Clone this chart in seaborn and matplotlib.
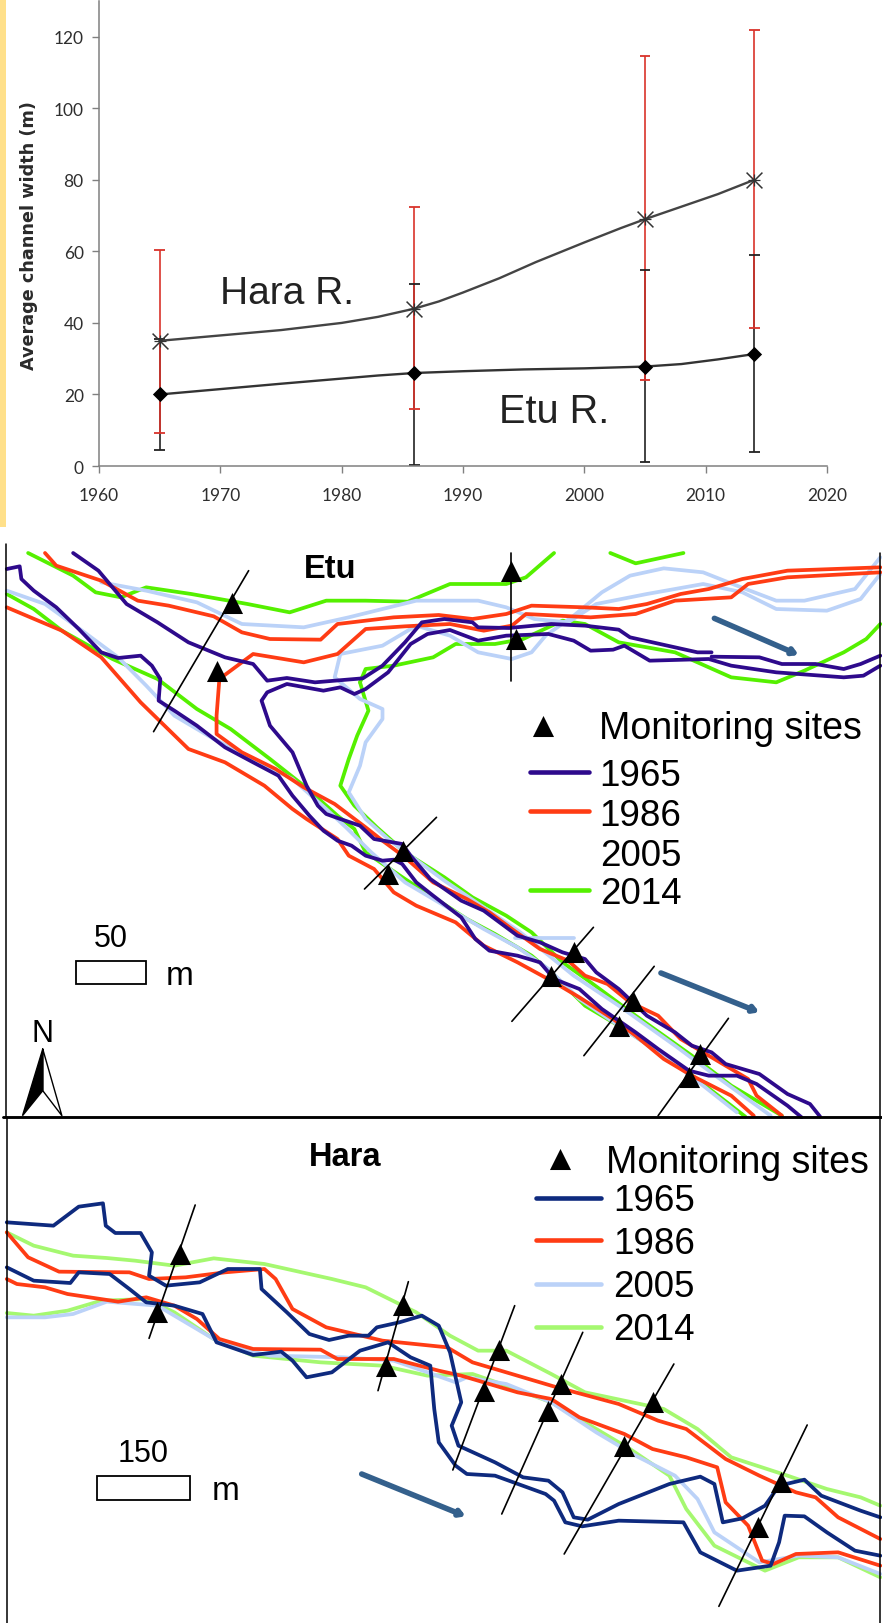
"""Channel width chart and digitised river maps for the Etu and Hara rivers."""

import matplotlib.pyplot as plt
import seaborn as sns

# Average channel width (m)
YEARS = [1965, 1986, 2005, 2014]
HARA_MEAN = [35, 44, 69, 80]
HARA_UPPER = [60.5, 72.5, 114.5, 122]
HARA_LOWER = [9.3, 16, 24, 38.5]
ETU_MEAN = [20, 26, 27.8, 31.3]
ETU_UPPER = [35.5, 51, 54.8, 59]
ETU_LOWER = [4.5, 0.3, 1, 4]
# smoothed curves
HARA_CURVE_X = [1965, 1970, 1975, 1980, 1983, 1986, 1988, 1990, 1993, 1996, 2000, 2003, 2005, 2008, 2011, 2014]
HARA_CURVE_Y = [35, 36.5, 38, 40, 41.7, 44, 46, 48.5, 52.5, 57, 62.5, 66.5, 69, 72.5, 76, 80]
ETU_CURVE_X = [1965, 1975, 1983, 1986, 1990, 1995, 2000, 2005, 2008, 2011, 2014]
ETU_CURVE_Y = [20, 23, 25.3, 26, 26.5, 27, 27.3, 27.8, 28.5, 29.8, 31.3]
X_TICKS = [1960, 1970, 1980, 1990, 2000, 2010, 2020]
Y_TICKS = [0, 20, 40, 60, 80, 100, 120]

# Etu map, banks by survey year (map units)
ETU_1965 = [
    [(12, 120), (35, 112), (38, 150), (60, 185), (100, 235), (140, 300), (180, 370), (210, 387), (250, 380),
     (270, 410), (285, 450), (282, 515), (310, 545), (350, 590), (400, 655), (450, 700), (495, 740), (520, 800),
     (550, 860), (575, 905), (600, 935), (625, 950), (650, 980), (680, 995), (700, 992), (715, 1005), (740, 1060),
     (770, 1100), (820, 1165), (845, 1230), (870, 1265), (920, 1280), (960, 1300), (985, 1350), (1030, 1380),
     (1070, 1440), (1130, 1510), (1170, 1560), (1225, 1625), (1260, 1640), (1310, 1640), (1345, 1665),
     (1400, 1730), (1425, 1765)],
    [(130, 72), (175, 125), (225, 225), (280, 280), (335, 340), (400, 385), (450, 405), (475, 455), (510, 447),
     (560, 460), (645, 448), (680, 410), (720, 340), (750, 280), (790, 270), (840, 280), (850, 295), (905, 297),
     (980, 285), (1040, 290), (1100, 302), (1120, 325), (1200, 355), (1240, 370), (1265, 370)],
    [(1265, 383), (1350, 385), (1390, 405), (1450, 405), (1500, 420), (1530, 405), (1565, 380)],
    [(1565, 410), (1535, 440), (1500, 445), (1380, 430), (1300, 410), (1260, 390), (1155, 395), (1110, 350),
     (1090, 362), (1050, 365), (1020, 335), (975, 315), (900, 320), (850, 335), (800, 303), (760, 315), (730, 345),
     (690, 430), (650, 480), (630, 495), (605, 475), (575, 485), (510, 465), (475, 490), (465, 515), (480, 590),
     (520, 670), (545, 770), (565, 830), (580, 855), (605, 870), (640, 890), (665, 930), (715, 945), (730, 980),
     (765, 1050), (820, 1115), (860, 1145), (920, 1220), (960, 1240), (1000, 1270), (1040, 1290), (1060, 1330),
     (1100, 1380), (1125, 1420), (1150, 1460), (1200, 1510), (1230, 1550), (1265, 1570), (1290, 1605), (1350, 1635),
     (1400, 1695), (1440, 1725), (1458, 1763)],
]
ETU_1986 = [
    [(80, 72), (100, 110), (180, 155), (245, 215), (300, 230), (380, 262), (430, 310), (480, 330), (570, 332),
     (600, 285), (700, 265), (780, 258), (840, 270), (900, 255), (945, 230), (1040, 235), (1100, 240), (1150, 225),
     (1210, 195), (1260, 180), (1320, 150), (1400, 125), (1565, 115)],
    [(1565, 130), (1400, 145), (1330, 165), (1300, 205), (1200, 215), (1130, 255), (1050, 265), (935, 255), (910, 290),
     (860, 305), (800, 285), (720, 292), (650, 300), (630, 330), (600, 375), (540, 400), (450, 375), (390, 450),
     (385, 560), (385, 615), (430, 670), (490, 720), (540, 775), (595, 825), (650, 895), (680, 935), (720, 985),
     (770, 1060), (830, 1110), (870, 1150), (910, 1200), (960, 1260), (1010, 1295), (1040, 1340), (1080, 1365),
     (1120, 1420), (1170, 1460), (1210, 1530), (1260, 1580), (1330, 1650), (1345, 1700), (1390, 1760)],
    [(12, 235), (110, 305), (180, 385), (250, 520), (335, 660), (400, 700), (470, 770), (520, 840), (545, 870),
     (600, 930), (620, 980), (665, 1020), (700, 1090), (740, 1130), (810, 1180), (860, 1250), (920, 1300),
     (985, 1360), (1030, 1405), (1090, 1470), (1130, 1520), (1180, 1590), (1230, 1640), (1300, 1700), (1340, 1760)],
]
ETU_2005 = [
    [(12, 185), (80, 225), (150, 310), (210, 385), (260, 470), (310, 560), (380, 630), (450, 690), (520, 750),
     (580, 840), (615, 895), (660, 970), (720, 1060), (790, 1130), (860, 1200), (920, 1255), (975, 1320),
     (1030, 1410), (1100, 1490), (1180, 1580), (1250, 1670), (1310, 1750)],
    [(180, 160), (260, 185), (350, 220), (430, 285), (540, 295), (620, 265), (740, 215), (850, 215), (900, 235),
     (950, 270), (1010, 280), (1060, 225), (1150, 195), (1250, 165), (1320, 190), (1380, 240), (1470, 245),
     (1530, 210), (1565, 135)],
    [(605, 375), (595, 445), (640, 510), (680, 540), (680, 570), (650, 640), (640, 710), (620, 790), (650, 870),
     (690, 930), (790, 1055), (860, 1135), (925, 1210), (1020, 1340), (1100, 1430), (1200, 1550), (1280, 1650),
     (1370, 1760)],
    [(605, 375), (680, 350), (740, 290), (800, 320), (850, 370), (910, 390), (945, 370), (970, 320), (1020, 260),
     (1070, 190), (1120, 140), (1180, 118), (1250, 130), (1310, 170), (1380, 215), (1430, 215), (1520, 180),
     (1565, 85)],
    [(915, 1228), (1020, 1228)],
]
ETU_2014 = [
    [(50, 72), (130, 140), (170, 190), (215, 205), (260, 175), (340, 195), (440, 225), (515, 250), (580, 215),
     (650, 215), (725, 218), (800, 165), (900, 165), (935, 145), (985, 72)],
    [(1085, 72), (1130, 103), (1215, 72)],
    [(640, 460), (650, 420), (700, 410), (770, 385), (810, 345), (880, 345), (930, 330), (1000, 275), (1040, 285),
     (1100, 340), (1200, 370), (1300, 445), (1380, 460), (1430, 425), (1500, 370), (1540, 330), (1565, 285)],
    [(640, 460), (655, 545), (635, 620), (620, 690), (605, 770), (630, 830), (670, 895), (720, 970), (790, 1045),
     (840, 1105), (900, 1160), (945, 1210), (1000, 1300), (1050, 1360), (1130, 1460), (1230, 1580), (1300, 1670),
     (1390, 1760)],
    [(12, 195), (60, 240), (110, 305), (200, 390), (280, 450), (350, 540), (410, 600), (480, 690), (540, 770),
     (600, 860), (630, 900), (650, 970), (720, 1050), (830, 1170), (880, 1215), (945, 1280), (980, 1330),
     (1040, 1430), (1100, 1490), (1200, 1600), (1300, 1730), (1325, 1763)],
]
ETU_SITES_X = [412, 386, 908, 918, 716, 690, 1020, 980, 1125, 1100, 1245, 1225]
ETU_SITES_Y = [222, 425, 125, 330, 965, 1035, 1270, 1340, 1415, 1490, 1575, 1645]
ETU_SECTIONS = [[(442, 125), (273, 608)], [(908, 72), (908, 455)], [(776, 865), (648, 1080)],
                [(1055, 1195), (910, 1477)], [(1163, 1312), (1038, 1580)], [(1295, 1468), (1170, 1760)]]

# Hara map
HARA_1965 = [
    [(12, 340), (95, 350), (140, 293), (183, 283), (188, 350), (205, 372), (250, 372), (270, 430), (265, 500),
     (295, 530), (355, 520), (405, 480), (462, 480), (465, 540), (510, 610), (550, 675), (585, 693), (620, 680),
     (655, 680), (670, 655), (710, 640), (750, 620), (780, 650), (800, 730), (820, 880), (803, 950), (815, 1010),
     (880, 1060), (930, 1105), (975, 1115), (1000, 1150), (1020, 1225), (1045, 1232), (1100, 1185), (1145, 1155),
     (1190, 1125), (1245, 1103), (1270, 1125), (1285, 1240), (1320, 1228), (1360, 1190), (1385, 1130), (1430, 1112),
     (1460, 1160), (1530, 1205), (1565, 1225)],
    [(12, 475), (60, 515), (125, 522), (140, 490), (195, 495), (230, 540), (260, 580), (310, 590), (360, 615),
     (385, 700), (450, 738), (500, 728), (520, 755), (545, 805), (590, 790), (640, 725), (690, 700), (730, 745),
     (765, 770), (772, 900), (780, 1000), (810, 1070), (830, 1095), (880, 1100), (970, 1155), (985, 1175),
     (1005, 1240), (1035, 1252), (1100, 1235), (1215, 1240), (1245, 1330), (1310, 1385), (1370, 1370), (1385, 1300),
     (1395, 1220), (1430, 1222), (1470, 1270), (1520, 1325), (1565, 1340)],
]
HARA_1986 = [
    [(12, 370), (50, 445), (105, 488), (230, 490), (265, 510), (330, 505), (400, 490), (470, 480), (490, 510),
     (520, 600), (580, 655), (680, 695), (795, 715), (840, 760), (920, 800), (990, 835), (1100, 885), (1170, 935),
     (1220, 960), (1290, 1050), (1350, 1100), (1415, 1150), (1450, 1165), (1490, 1225), (1565, 1290)],
    [(12, 510), (30, 525), (80, 535), (120, 555), (210, 578), (260, 565), (310, 590), (350, 630), (390, 690),
     (450, 720), (570, 722), (600, 750), (700, 750), (780, 785), (820, 800), (920, 850), (980, 870), (1030, 925),
     (1110, 975), (1160, 1020), (1220, 1045), (1275, 1075), (1290, 1180), (1330, 1250), (1355, 1355), (1375, 1365),
     (1415, 1335), (1490, 1330), (1565, 1370)],
]
HARA_2005 = [
    [(12, 625), (80, 625), (130, 615), (190, 578), (280, 590), (380, 690), (430, 720), (480, 740), (610, 745),
     (700, 755), (760, 790), (810, 820), (830, 805), (900, 825), (980, 880), (1060, 970), (1130, 1040), (1200, 1100),
     (1240, 1170), (1270, 1270), (1350, 1360), (1420, 1340), (1490, 1345), (1565, 1395)],
]
HARA_2014 = [
    [(12, 370), (60, 410), (130, 440), (190, 447), (240, 455), (310, 470), (380, 448), (470, 465), (590, 510),
     (650, 535), (740, 610), (800, 680), (850, 725), (900, 725), (980, 795), (1040, 850), (1180, 900), (1240, 960),
     (1300, 1045), (1400, 1100), (1470, 1140), (1530, 1165), (1565, 1190)],
    [(12, 612), (60, 620), (120, 605), (180, 575), (260, 570), (310, 610), (380, 690), (450, 740), (570, 760),
     (680, 770), (760, 800), (840, 795), (900, 830), (980, 880), (1050, 950), (1120, 1020), (1190, 1100), (1220, 1200),
     (1270, 1310), (1360, 1385), (1420, 1345), (1490, 1345), (1565, 1405)],
]
HARA_SITES_X = [320, 279, 716, 687, 887, 860, 998, 975, 1160, 1110, 1388, 1348]
HARA_SITES_Y = [435, 608, 588, 770, 722, 845, 825, 905, 880, 1010, 1118, 1255]
HARA_SECTIONS = [[(347, 288), (265, 688)], [(726, 518), (672, 845)], [(915, 590), (805, 1083)],
                 [(1036, 670), (892, 1215)], [(1198, 765), (1003, 1335)], [(1435, 948), (1278, 1492)]]

YEAR_LABELS = ["1965", "1986", "2005", "2014"]
RED, GREEN, PALE_BLUE = "#ff3c14", "#55f000", "#bbd2f8"
ETU_PURPLE, HARA_NAVY, HARA_GREEN = "#2e0a8c", "#0e2a7e", "#a5f870"
ARROW_BLUE = "#34608c"
FONT = "Liberation Sans"

sns.set_style("white")
plt.rcParams["font.family"] = [FONT, "DejaVu Sans"]
plt.rcParams["text.color"] = "black"

W, H = 882, 1624
fig = plt.figure(figsize=(W / 100, H / 100), dpi=100, facecolor="white")


def px_axes(left, top, right, bottom):
    """Add axes placed by pixel edges in the figure."""
    return fig.add_axes([left / W, 1 - bottom / H, (right - left) / W, (bottom - top) / H])


def draw_banks(ax, banks, color, lw=2.7):
    """Draw river banks as lines in map units."""
    for bank in banks:
        xs, ys = zip(*bank)
        sns.lineplot(x=list(xs), y=list(ys), sort=False, estimator=None, color=color, linewidth=lw, ax=ax,
                     legend=False, solid_joinstyle="round")


def draw_sites(ax, xs, ys, sections):
    """Draw cross sections and the monitoring site triangles."""
    for section in sections:
        sx, sy = zip(*section)
        ax.plot(sx, sy, color="black", lw=1.2, zorder=5)
    sns.scatterplot(x=xs, y=ys, marker="^", s=230, color="black", linewidth=0, ax=ax, zorder=6, legend=False)


def flow_arrow(ax, start, end):
    ax.annotate("", xy=end, xytext=start, zorder=4,
                arrowprops=dict(arrowstyle="-|>,head_length=0.3,head_width=0.18", color=ARROW_BLUE, lw=4,
                                shrinkA=0, shrinkB=0))


def map_axes(left_top, right_bottom, xmax, ymax):
    ax = px_axes(left_top[0], left_top[1], right_bottom[0], right_bottom[1])
    ax.set_xlim(0, xmax)
    ax.set_ylim(ymax, 0)
    ax.axis("off")
    ax.patch.set_alpha(0)
    return ax


# Top chart
ax = px_axes(99, 2, 827, 467)
sns.lineplot(x=HARA_CURVE_X, y=HARA_CURVE_Y, color="#444444", linewidth=1.7, ax=ax, zorder=3)
sns.lineplot(x=ETU_CURVE_X, y=ETU_CURVE_Y, color="#333333", linewidth=1.7, ax=ax, zorder=3)
ax.vlines(YEARS, ETU_LOWER, ETU_UPPER, color="#222222", lw=1.2, zorder=1)
ax.vlines(YEARS, HARA_LOWER, HARA_UPPER, color="#d9332b", lw=1.2, zorder=2)
ax.hlines(ETU_LOWER + ETU_UPPER, [y - 0.45 for y in YEARS * 2], [y + 0.45 for y in YEARS * 2],
          color="#222222", lw=1.3, zorder=2)
ax.hlines(HARA_LOWER + HARA_UPPER, [y - 0.45 for y in YEARS * 2], [y + 0.45 for y in YEARS * 2],
          color="#d9332b", lw=1.3, zorder=2)
sns.scatterplot(x=YEARS, y=HARA_MEAN, marker="x", s=130, color="#333333", linewidth=1.1, ax=ax, zorder=4)
sns.scatterplot(x=YEARS, y=HARA_MEAN, marker="+", s=70, color="#333333", linewidth=0.9, ax=ax, zorder=4)
sns.scatterplot(x=YEARS, y=ETU_MEAN, marker="D", s=60, color="black", linewidth=0, ax=ax, zorder=4)
ax.set_xlim(1960, 2020)
ax.set_ylim(0, 130)
ax.set_xticks(X_TICKS)
ax.set_yticks(Y_TICKS)
ax.tick_params(axis="both", length=5, width=1, color="#808080", labelcolor="#2e2e2e", labelsize=12.5, bottom=True,
               left=True)
ax.tick_params(axis="x", pad=10)
ax.tick_params(axis="y", pad=6)
for label in ax.get_xticklabels() + ax.get_yticklabels():
    label.set_family("Lato")
sns.despine(ax=ax)
for side in ("left", "bottom"):
    ax.spines[side].set_color("#808080")
    ax.spines[side].set_linewidth(1.1)
ax.patch.set_alpha(0)
fig.text(29 / W, 1 - 236 / H, "Average channel width (m)", rotation=90, ha="center", va="center", fontsize=12.7,
         fontweight="bold", color="#2a2a2a", family="DejaVu Sans")
ax.text(1970.0, 48.5, "Hara R.", fontsize=28, color="#222222", va="center")
ax.text(1993.0, 15.5, "Etu R.", fontsize=28.5, color="#222222", va="center")

# yellow strip on the left edge
fig.patches.append(plt.Rectangle((0, 1 - 528 / H), 5.5 / W, 528 / H, transform=fig.transFigure,
                                 facecolor="#ffe08a", edgecolor="none"))

# Etu map
ax = map_axes((0, 530), (882, 1120), 1568, 1770)
draw_banks(ax, ETU_2014, GREEN)
draw_banks(ax, ETU_2005, PALE_BLUE)
draw_banks(ax, ETU_1986, RED)
draw_banks(ax, ETU_1965, ETU_PURPLE)
draw_sites(ax, ETU_SITES_X, ETU_SITES_Y, ETU_SECTIONS)
flow_arrow(ax, (1270, 268), (1420, 378))
flow_arrow(ax, (1175, 1332), (1350, 1450))
ax.plot([10, 10], [45, 1763], color="black", lw=1.1)
ax.plot([1565, 1565], [72, 1763], color="black", lw=1.1)
ax.plot([5, 1568], [1763, 1763], color="black", lw=1.8, clip_on=False)
ax.text(587, 120, "Etu", fontsize=23.5, fontweight="bold", ha="center", va="center")
sns.scatterplot(x=[965], y=[590], marker="^", s=230, color="black", linewidth=0, ax=ax, legend=False)
ax.text(1065, 598, "Monitoring sites", fontsize=27, va="center")
for label, y, color in zip(YEAR_LABELS, [740, 858, 980, 1095], [ETU_PURPLE, RED, None, GREEN]):
    if color:
        ax.plot([943, 1047], [y - 12, y - 12], color=color, lw=3.3, solid_capstyle="round")
    ax.text(1066, y, label, fontsize=26.5, va="center")
ax.add_patch(plt.Rectangle((135, 1295), 125, 70, facecolor="white", edgecolor="black", lw=1.3))
ax.text(197, 1226, "50", fontsize=22, ha="center", va="center")
ax.text(320, 1340, "m", fontsize=24, ha="center", va="center")
ax.text(76, 1511, "N", fontsize=22, ha="center", va="center")
ax.fill([76, 40, 76], [1560, 1760, 1685], color="black")
ax.plot([76, 110, 76, 76], [1560, 1760, 1685, 1560], color="black", lw=1)

# Hara map
ax = map_axes((0, 1110), (882, 1624), 1568, 1542)
draw_banks(ax, HARA_2014, HARA_GREEN)
draw_banks(ax, HARA_2005, PALE_BLUE)
draw_banks(ax, HARA_1986, RED)
draw_banks(ax, HARA_1965, HARA_NAVY)
draw_sites(ax, HARA_SITES_X, HARA_SITES_Y, HARA_SECTIONS)
flow_arrow(ax, (643, 1095), (828, 1222))
ax.plot([12, 12], [25, 1542], color="black", lw=1.1)
ax.plot([1565, 1565], [25, 1542], color="black", lw=1.1)
ax.plot([5, 1568], [25, 25], color="black", lw=1.8, clip_on=False)
ax.text(614, 141, "Hara", fontsize=23.5, fontweight="bold", ha="center", va="center")
sns.scatterplot(x=[995], y=[150], marker="^", s=230, color="black", linewidth=0, ax=ax, legend=False)
ax.text(1078, 158, "Monitoring sites", fontsize=27, va="center")
for label, y, color in zip(YEAR_LABELS, [274, 402, 532, 662], [HARA_NAVY, RED, PALE_BLUE, HARA_GREEN]):
    ax.plot([953, 1068], [y - 8, y - 8], color=color, lw=3.3, solid_capstyle="round")
    ax.text(1090, y, label, fontsize=26.5, va="center")
ax.add_patch(plt.Rectangle((173, 1100), 164, 72, facecolor="white", edgecolor="black", lw=1.3))
ax.text(255, 1031, "150", fontsize=22, ha="center", va="center")
ax.text(402, 1146, "m", fontsize=24, ha="center", va="center")

fig.savefig("out.png", dpi=100)
